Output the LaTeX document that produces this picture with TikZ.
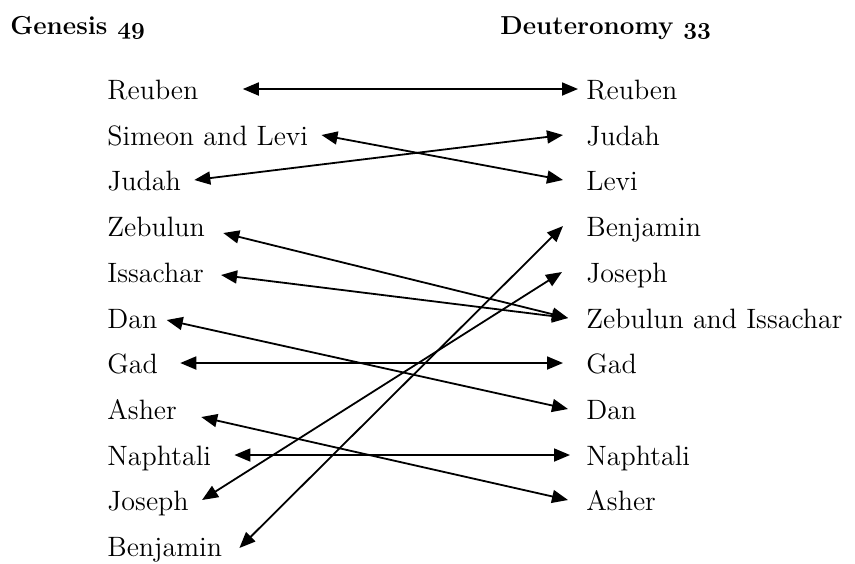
\documentclass[tikz,border=0pt]{standalone}
\usetikzlibrary{arrows.meta}
\newcommand\osnum[1]{{\usefont{OML}{cmm}{b}{it}#1}}
\begin{document}
\begin{tikzpicture}[x=0.5pt,y=-0.5pt,
	tribe/.style={anchor=west,inner sep=0pt,text height=11pt,text depth=1pt,font=\fontsize{14}{16}\selectfont},
	bookhead/.style={anchor=west,inner sep=0pt,text height=11pt,text depth=1pt,font=\fontsize{13}{15}\selectfont\bfseries},
	link/.style={{Triangle[length=8pt,width=6.5pt]}-{Triangle[length=8pt,width=6.5pt]},line width=0.9pt}]
		\useasboundingbox (0,0) rectangle (855,563);
		\node[bookhead] (gen) at (10,24) {Genesis \osnum{49}};
		\node[bookhead] (deut) at (500,24) {Deuteronomy \osnum{33}};
		% Genesis 49
		\node[tribe] (gReuben) at (107,89) {Reuben};
		\node[tribe] (gSimeon) at (107,135) {Simeon and Levi};
		\node[tribe] (gJudah) at (107,180) {Judah};
		\node[tribe] (gZebulun) at (107,226) {Zebulun};
		\node[tribe] (gIssachar) at (107,272) {Issachar};
		\node[tribe] (gDan) at (107,318) {Dan};
		\node[tribe] (gGad) at (107,363) {Gad};
		\node[tribe] (gAsher) at (107,409) {Asher};
		\node[tribe] (gNaphtali) at (107,455) {Naphtali};
		\node[tribe] (gJoseph) at (107,500) {Joseph};
		\node[tribe] (gBenjamin) at (107,546) {Benjamin};
		% Deuteronomy 33
		\node[tribe] (dReuben) at (586,89) {Reuben};
		\node[tribe] (dJudah) at (586,135) {Judah};
		\node[tribe] (dLevi) at (586,180) {Levi};
		\node[tribe] (dBenjamin) at (586,226) {Benjamin};
		\node[tribe] (dJoseph) at (586,272) {Joseph};
		\node[tribe] (dZebIss) at (586,318) {Zebulun and Issachar};
		\node[tribe] (dGad) at (586,363) {Gad};
		\node[tribe] (dDan) at (586,409) {Dan};
		\node[tribe] (dNaphtali) at (586,455) {Naphtali};
		\node[tribe] (dAsher) at (586,500) {Asher};
		% order changes
		\draw[link] ([xshift=22pt]gReuben.east) -- ([xshift=-4pt]dReuben.west);
		\draw[link] ([xshift=6.5pt]gSimeon.east) -- ([xshift=-11.5pt]dLevi.west);
		\draw[link] ([xshift=6.5pt]gJudah.east) -- ([xshift=-11.5pt]dJudah.west);
		\draw[link] ([xshift=9pt,yshift=-3.5pt]gZebulun.east) -- ([xshift=-9pt]dZebIss.west);
		\draw[link] ([xshift=8.5pt,yshift=-1.5pt]gIssachar.east) -- ([xshift=-9pt]dZebIss.west);
		\draw[link] ([xshift=4.5pt,yshift=-1pt]gDan.east) -- ([xshift=-9pt]dDan.west);
		\draw[link] ([xshift=11pt]gGad.east) -- ([xshift=-11.5pt]dGad.west);
		\draw[link] ([xshift=12pt,yshift=-4pt]gAsher.east) -- ([xshift=-9pt]dAsher.west);
		\draw[link] ([xshift=11.5pt]gNaphtali.east) -- ([xshift=-8pt]dNaphtali.west);
		\draw[link] ([xshift=6.5pt]gJoseph.east) -- ([xshift=-12pt]dJoseph.west);
		\draw[link] ([xshift=8.5pt,yshift=-1pt]gBenjamin.east) -- ([xshift=-11.5pt]dBenjamin.west);
	\end{tikzpicture}
\end{document}
